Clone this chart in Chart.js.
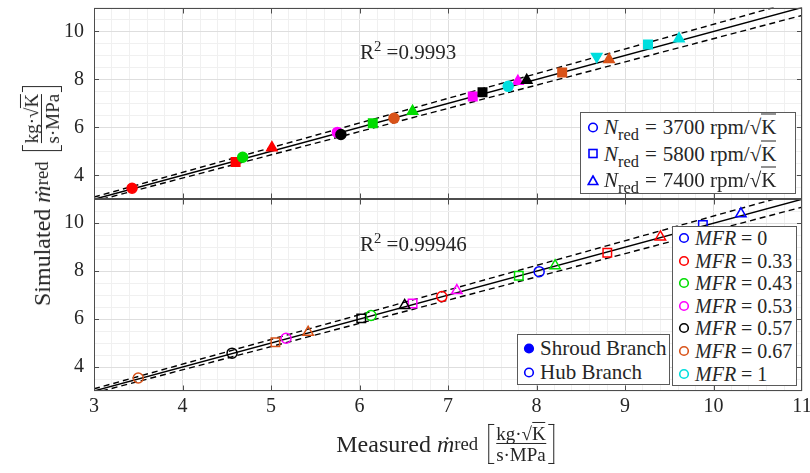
<!DOCTYPE html>
<html>
<head>
<meta charset="utf-8">
<script src="https://cdn.jsdelivr.net/npm/chart.js@4.4.1/dist/chart.umd.min.js"></script>
<style>
body { margin: 0; background: #fff; }
#wrap { position: relative; width: 810px; height: 473px; font-family: "Liberation Serif", "DejaVu Serif", serif; color: #262626; }
#wrap canvas { position: absolute; left: 0; top: 0; }
.lab { position: absolute; white-space: nowrap; line-height: 1; }
.box { position: absolute; background: #fff; border: 1px solid #5a5a5a; box-sizing: border-box; }
.row { position: absolute; display: flex; align-items: center; white-space: nowrap; transform: translateY(-50%); font-size: 20px; line-height: 1; }
.row svg { margin-right: 5px; flex: none; }
.big { font-size: 21px; }
.eq { margin: 0 6px; }
sub { font-size: 0.78em; vertical-align: -0.38em; line-height: 0; }
sup { font-size: 0.7em; vertical-align: 0.55em; line-height: 0; }
.ov { border-top: 1px solid #262626; line-height: 0.95; }
.fb { display: inline-flex; align-items: stretch; vertical-align: middle; margin-left: 10px; }
.bl, .br { width: 5px; border: 1.3px solid #262626; }
.bl { border-right: none; }
.br { border-left: none; }
.frac { display: inline-flex; flex-direction: column; align-items: center; font-size: 19px; padding: 0 2px; }
.frac span.dn { border-top: 1px solid #262626; padding-top: 1px; }
.title { display: flex; align-items: center; font-size: 24px; }
</style>
</head>
<body>
<div id="wrap">
  <canvas id="chart" width="810" height="473"></canvas>
</div>
<script>
// categories
const mfrLabels = ['0', '0.33', '0.43', '0.53', '0.57', '0.67', '1'];
const mfrColors = ['#0000ff', '#ff0000', '#00dd00', '#ff00ff', '#000000', '#d95319', '#00dede'];
const speedLabels = ['3700', '5800', '7400'];
const speedShapes = ['circle', 'rect', 'triangle', 'triangle'];
const speedRotation = [0, 0, 0, 180];
const branchLabels = ['Shroud Branch', 'Hub Branch'];
const r2Labels = ['0.9993', '0.99946'];

// shroud branch (top panel, filled markers)
const shroudMeasured  = [3.43, 4.60, 5.01, 4.68, 6.15, 6.60, 5.75, 7.28, 7.79, 5.79, 7.39, 7.89, 6.39, 8.29, 8.82, 7.68, 9.26, 9.61, 8.68];
const shroudSimulated = [3.46, 4.55, 5.15, 4.75, 6.17, 6.67, 5.79, 7.29, 7.92, 5.70, 7.46, 7.96, 6.38, 8.29, 8.83, 7.71, 9.46, 9.70, 8.96];
const shroudMfr   = [1, 1, 1, 2, 2, 2, 3, 3, 3, 4, 4, 4, 5, 5, 5, 6, 6, 6, 6];
const shroudSpeed = [0, 1, 2, 0, 1, 2, 0, 1, 2, 0, 1, 2, 0, 1, 2, 0, 1, 2, 3];

// hub branch (bottom panel, open markers)
const hubMeasured  = [8.03, 9.88, 10.31, 6.93, 8.80, 9.40, 6.13, 7.80, 8.21, 5.17, 6.60, 7.10, 4.56, 6.02, 6.51, 3.50, 5.05, 5.42];
const hubSimulated = [7.98, 9.93, 10.39, 6.94, 8.77, 9.43, 6.15, 7.81, 8.23, 5.20, 6.65, 7.19, 4.58, 6.03, 6.57, 3.54, 5.03, 5.45];
const hubMfr   = [0, 0, 0, 1, 1, 1, 2, 2, 2, 3, 3, 3, 4, 4, 4, 5, 5, 5];
const hubSpeed = [0, 1, 2, 0, 1, 2, 0, 1, 2, 0, 1, 2, 0, 1, 2, 0, 1, 2];

// y = x line and the +-3% band
const idealX = [3, 11];
const idealY = [3, 11];
const upperX = [3, 10.68];
const upperY = [3.09, 11];
const lowerX = [3.09, 11];
const lowerY = [3, 10.67];

function toXY(xs, ys) {
    return xs.map((x, i) => ({ x: x, y: ys[i] }));
}
function isWhole(v, step) {
    const r = v / step;
    return Math.abs(r - Math.round(r)) < 1e-6;
}

function refLines(axis) {
    const base = { type: 'line', yAxisID: axis, borderColor: '#000', borderWidth: 1.4, pointRadius: 0, fill: false, order: 2 };
    return [
        Object.assign({ data: toXY(idealX, idealY) }, base),
        Object.assign({ data: toXY(upperX, upperY), borderDash: [6, 4] }, base),
        Object.assign({ data: toXY(lowerX, lowerY), borderDash: [6, 4] }, base)
    ];
}

function markers(xs, ys, mfr, speed, axis, filled) {
    return {
        type: 'scatter',
        yAxisID: axis,
        order: 1,
        data: toXY(xs, ys),
        pointStyle: c => speedShapes[speed[c.dataIndex]],
        pointRotation: c => speedRotation[speed[c.dataIndex]],
        pointRadius: c => speedShapes[speed[c.dataIndex]] === 'circle' ? 5 : 6,
        pointHoverRadius: c => speedShapes[speed[c.dataIndex]] === 'circle' ? 5 : 6,
        pointBackgroundColor: c => filled ? mfrColors[mfr[c.dataIndex]] : 'rgba(0,0,0,0)',
        pointBorderColor: c => mfrColors[mfr[c.dataIndex]],
        pointBorderWidth: 1.5
    };
}

const tickFont = { family: '"Liberation Serif", "DejaVu Serif", serif', size: 20 };

function yScale() {
    return {
        type: 'linear',
        position: 'left',
        stack: 'panels',
        stackWeight: 1,
        min: 3,
        max: 11,
        border: { display: false },
        afterFit: s => { s.width = 50; s.paddingTop = 0; s.paddingBottom = 0; },
        grid: {
            drawTicks: false,
            color: c => isWhole(c.tick.value, 2) ? '#dedede' : '#f0f0f0'
        },
        ticks: {
            stepSize: 0.5,
            autoSkip: false,
            padding: 10,
            color: '#262626',
            font: tickFont,
            callback: v => isWhole(v, 2) ? v : ''
        }
    };
}

// box round each panel with inside tick marks
const frame = {
    id: 'frame',
    afterDatasetsDraw(chart) {
        const ctx = chart.ctx;
        const a = chart.chartArea;
        const xs = chart.scales.x;
        ctx.save();
        ctx.strokeStyle = '#4d4d4d';
        ctx.lineWidth = 1;
        ['yTop', 'yBot'].forEach(id => {
            const s = chart.scales[id];
            const top = Math.round(s.top) + 0.5;
            const bot = Math.round(s.bottom) - 0.5;
            ctx.strokeRect(Math.round(a.left) + 0.5, top, Math.round(a.right - a.left) - 1, bot - top);
            ctx.beginPath();
            for (let v = 4; v <= 10; v++) {
                const px = Math.round(xs.getPixelForValue(v)) + 0.5;
                ctx.moveTo(px, bot); ctx.lineTo(px, bot - 5);
                ctx.moveTo(px, top); ctx.lineTo(px, top + 5);
            }
            for (let v = 4; v <= 10; v += 2) {
                const py = Math.round(s.getPixelForValue(v)) + 0.5;
                ctx.moveTo(a.left, py); ctx.lineTo(a.left + 5, py);
                ctx.moveTo(a.right, py); ctx.lineTo(a.right - 5, py);
            }
            ctx.stroke();
        });
        ctx.restore();
    }
};

const ctx = document.getElementById('chart').getContext('2d');
const chart = new Chart(ctx, {
    type: 'scatter',
    data: {
        datasets: [
            markers(shroudMeasured, shroudSimulated, shroudMfr, shroudSpeed, 'yTop', true),
            markers(hubMeasured, hubSimulated, hubMfr, hubSpeed, 'yBot', false)
        ].concat(refLines('yTop'), refLines('yBot'))
    },
    options: {
        responsive: false,
        animation: false,
        layout: { padding: { top: 6, right: 8, left: 44, bottom: 52 } },
        plugins: { legend: { display: false }, tooltip: { enabled: false } },
        scales: {
            x: {
                type: 'linear',
                min: 3,
                max: 11,
                border: { display: false },
                afterFit: s => { s.height = 30; s.paddingLeft = 0; s.paddingRight = 0; },
                grid: {
                    drawTicks: false,
                    color: c => isWhole(c.tick.value, 1) ? '#dedede' : '#f0f0f0'
                },
                ticks: {
                    stepSize: 0.2,
                    autoSkip: false,
                    maxRotation: 0,
                    padding: 4,
                    color: '#262626',
                    font: tickFont,
                    callback: v => isWhole(v, 1) ? Math.round(v) : ''
                }
            },
            // stacked left axes: the first one listed ends up at the bottom
            yBot: yScale(),
            yTop: yScale()
        }
    },
    plugins: [frame]
});

// ----- text overlays (legends, R^2, axis titles) -----
const wrap = document.getElementById('wrap');
function add(html) {
    wrap.insertAdjacentHTML('beforeend', html);
}
function markerSvg(shape, color, filled) {
    const fill = filled ? color : 'none';
    const st = `fill="${fill}" stroke="${color}" stroke-width="1.6"`;
    let el;
    if (shape === 'circle') el = `<circle cx="6" cy="6" r="4.3" ${st}/>`;
    else if (shape === 'rect') el = `<rect x="2" y="2" width="8" height="8" ${st}/>`;
    else el = `<polygon points="6,1.5 10.8,10 1.2,10" ${st}/>`;
    return `<svg width="12" height="12" viewBox="0 0 12 12">${el}</svg>`;
}
const sqrtK = '√<span class="ov">K</span>';
const unitFrac = `<span class="fb"><span class="bl"></span><span class="frac"><span>kg·${sqrtK}</span><span class="dn">s·MPa</span></span><span class="br"></span></span>`;

// N_red legend (top panel)
let html = '<div class="box" style="left:580px;top:112px;width:216px;height:82px">';
speedLabels.forEach((v, i) => {
    html += `<div class="row big" style="left:6px;top:${14 + i * 26.5}px">${markerSvg(speedShapes[i], '#0000ff', false)}<span><i>N</i><sub>red</sub><span class="eq">=</span>${v} rpm/${sqrtK}</span></div>`;
});
add(html + '</div>');

// MFR legend (bottom panel)
html = '<div class="box" style="left:672px;top:226px;width:125px;height:160px">';
mfrLabels.forEach((v, i) => {
    html += `<div class="row" style="left:5px;top:${11 + i * 22.6}px">${markerSvg('circle', mfrColors[i], false)}<span><i>MFR</i> = ${v}</span></div>`;
});
add(html + '</div>');

// branch legend
html = '<div class="box" style="left:517px;top:334px;width:153px;height:51px">';
branchLabels.forEach((v, i) => {
    html += `<div class="row big" style="left:5px;top:${13 + i * 24}px">${markerSvg('circle', '#0000ff', i === 0)}<span>${v}</span></div>`;
});
add(html + '</div>');

// R^2 labels
add(`<div class="lab" style="left:360px;top:42px;font-size:21px">R<sup>2</sup> =${r2Labels[0]}</div>`);
add(`<div class="lab" style="left:360px;top:234px;font-size:21px">R<sup>2</sup> =${r2Labels[1]}</div>`);

// axis titles
add(`<div class="lab title" style="left:445px;top:444px;transform:translate(-50%,-50%)">Measured&nbsp;<i>ṁ</i><sub>red</sub>${unitFrac}</div>`);
add(`<div class="lab title" style="left:42px;top:196px;transform:translate(-50%,-50%) rotate(-90deg)">Simulated&nbsp;<i>ṁ</i><sub>red</sub>${unitFrac}</div>`);
</script>
</body>
</html>
